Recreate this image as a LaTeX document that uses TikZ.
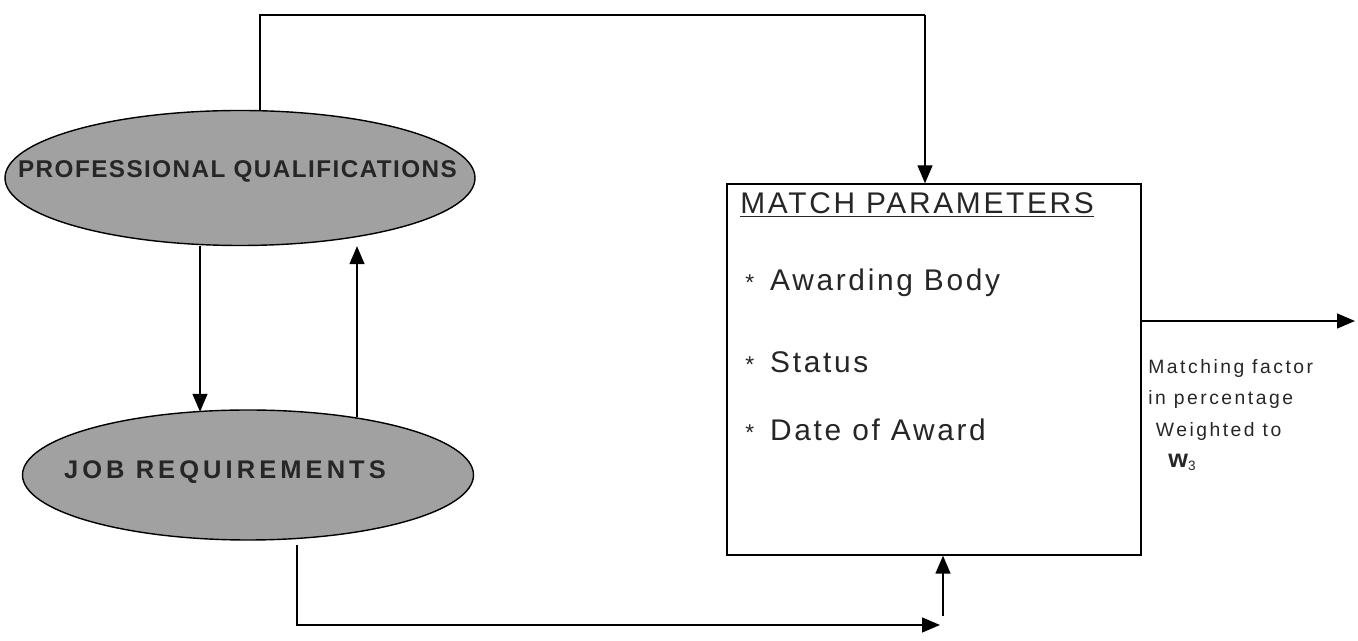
\documentclass[tikz,border=0pt]{standalone}
\usepackage{fontspec}
\setmainfont{Liberation Sans}
\newfontfamily\widefont[LetterSpace=6]{Liberation Sans}
\newfontfamily\widerfont[LetterSpace=16]{Liberation Sans}
\newfontfamily\boxfont[LetterSpace=9]{Liberation Sans}
\newfontfamily\labelfont[LetterSpace=13]{Liberation Sans}
\usetikzlibrary{arrows.meta, positioning, shapes.geometric}

\begin{document}
\begin{tikzpicture}[
        source/.style={ellipse, draw, thick, fill=black!37, inner sep=0pt},
        caption/.style={inner sep=0pt, text=black!85,
            font=\widefont\bfseries\fontsize{13.8}{16}\selectfont},
        params/.style={rectangle, draw, thick, minimum width=8.28cm,
            minimum height=7.42cm},
        item/.style={anchor=west, inner sep=0pt, text=black!85,
            font=\boxfont\fontsize{17}{20}\selectfont},
        link/.style={thick, -{Triangle[length=3.6mm, width=3mm]}},
        plain/.style={thick, -},
    ]
        \useasboundingbox (0,0) rectangle (27.16,12.82);

        % Sources
        \node[source, minimum width=9.4cm, minimum height=2.7cm] (pq) at (4.8,9.26) {};
        \node[caption] (pqtext) at (4.75,9.4) {PROFESSIONAL QUALIFICATIONS};
        \node[source, minimum width=9.02cm, minimum height=2.6cm] (jr) at (4.96,3.32) {};
        \node[caption, font=\widerfont\bfseries\fontsize{14.5}{16}\selectfont] (jrtext) at (4.5,3.38)
            {JOB REQUIREMENTS};

        % Match parameters
        \node[params] (mp) at (18.68,5.43) {};
        \node[item] (title) at (14.8,8.72) {\underline{MATCH PARAMETERS}};
        \node[item] (body) at (14.9,7.16) {{\fontsize{13}{13}\selectfont*}\ \,Awarding Body};
        \node[item] (status) at (14.9,5.58) {{\fontsize{13}{13}\selectfont*}\ \,Status};
        \node[item] (date) at (14.9,4.22) {{\fontsize{13}{13}\selectfont*}\ \,Date of Award};

        % Result
        \node[anchor=west, align=left, inner sep=0pt, text=black!85,
            font=\labelfont\fontsize{11}{18}\selectfont] (factor) at (22.96,4.52)
            {Matching factor\\in percentage\\\hspace{0.15cm}Weighted to\\\hspace{0.4cm}{\Large\bfseries w}\textsubscript{3}};

        % Turning points
        \coordinate (top) at (18.5,12.52);
        \coordinate (bot) at (18.8,0.32);
        \coordinate (up) at (18.86,0.5);
        \coordinate (out) at (27.1,6.4);

        % Links
        \draw[plain] ([xshift=4mm]pq.north) |- (top);
        \draw[link] (top) -- (top |- mp.north);
        \draw[link] ([xshift=-8mm]pq.south) -- ([xshift=-8mm, yshift=-0.05cm]pq.south |- jr.north);
        \draw[link] ([xshift=2.18cm, yshift=-0.16cm]jr.north) -- ([xshift=2.18cm]jr.north |- pq.south);
        \draw[link] ([xshift=0.98cm, yshift=-0.08cm]jr.south) |- (bot);
        \draw[link] (up) -- (up |- mp.south);
        \draw[link] (mp.east |- out) -- (out);
    \end{tikzpicture}
\end{document}
